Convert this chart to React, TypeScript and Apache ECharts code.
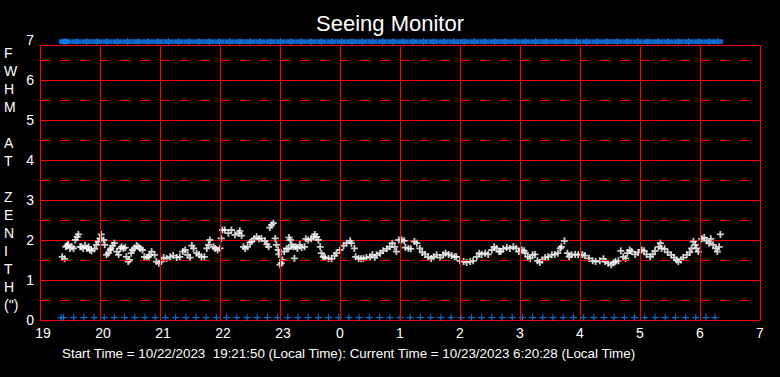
import React, { useEffect, useRef } from "react";
import * as echarts from "echarts";

// ---- data ----
const xTicks = [19, 20, 21, 22, 23, 24, 25, 26, 27, 28, 29, 30, 31]; // hours (24+ = next day)
const yMin = 0;
const yMax = 7;
const frameTop = 6.875; // top border of the plot frame
const halfLevels = [0.5, 1.5, 2.5, 3.5, 4.5, 5.5, 6.5];
const topMarkerLevel = 6.96;
const bottomMarkerLevel = 0.06;

const seeingTimes = [
  19.37, 19.41, 19.43, 19.45, 19.47, 19.5, 19.53, 19.56, 19.59, 19.62,
  19.64, 19.67, 19.69, 19.72, 19.75, 19.78, 19.81, 19.83, 19.86, 19.91,
  19.94, 19.97, 20.0, 20.02, 20.06, 20.08, 20.11, 20.14, 20.17, 20.18,
  20.21, 20.24, 20.28, 20.31, 20.34, 20.36, 20.39, 20.42, 20.44, 20.47,
  20.49, 20.52, 20.54, 20.57, 20.61, 20.64, 20.67, 20.71, 20.74, 20.78,
  20.81, 20.83, 20.86, 20.91, 20.94, 20.98, 21.02, 21.06, 21.11, 21.17,
  21.22, 21.28, 21.33, 21.38, 21.42, 21.46, 21.5, 21.53, 21.56, 21.61,
  21.65, 21.69, 21.74, 21.78, 21.81, 21.83, 21.89, 21.92, 21.96, 22.0,
  22.02, 22.04, 22.08, 22.14, 22.19, 22.25, 22.31, 22.33, 22.36, 22.39,
  22.42, 22.46, 22.5, 22.53, 22.57, 22.61, 22.65, 22.69, 22.75, 22.78,
  22.81, 22.83, 22.86, 22.89, 22.92, 22.94, 22.97,
  22.98, 23.0, 23.02, 23.04, 23.07, 23.11, 23.14, 23.15, 23.17, 23.19,
  23.22, 23.24, 23.26, 23.29, 23.33, 23.36, 23.41, 23.43, 23.47, 23.52,
  23.56, 23.58, 23.61, 23.64, 23.67, 23.69, 23.72, 23.75, 23.81, 23.86,
  23.91, 23.94, 24.0, 24.06, 24.11, 24.17, 24.19, 24.24, 24.26, 24.31,
  24.35, 24.39, 24.44, 24.5, 24.54, 24.58, 24.61, 24.67, 24.72, 24.78,
  24.83, 24.87, 24.91, 24.94, 24.98, 25.03, 25.07, 25.09, 25.14, 25.18,
  25.24, 25.28, 25.33, 25.37, 25.42, 25.47, 25.52, 25.56, 25.61, 25.67,
  25.72, 25.76, 25.81, 25.86, 25.91, 25.94, 26.0, 26.06, 26.11, 26.17,
  26.22, 26.28, 26.32, 26.36, 26.42, 26.47, 26.53, 26.57, 26.61, 26.65,
  26.68, 26.72, 26.78, 26.83, 26.89, 26.94, 26.98, 27.03, 27.07, 27.09,
  27.13, 27.17, 27.21, 27.25, 27.29, 27.33, 27.37, 27.42, 27.47, 27.53,
  27.58, 27.63, 27.67, 27.69, 27.74, 27.79, 27.82, 27.86, 27.92, 27.97,
  28.04, 28.08, 28.15, 28.21, 28.26, 28.33, 28.39, 28.42, 28.47, 28.52,
  28.56, 28.59, 28.64, 28.68, 28.72, 28.76, 28.79, 28.83, 28.86, 28.92,
  28.97, 29.03, 29.07, 29.11, 29.17, 29.21, 29.25, 29.31, 29.34, 29.36,
  29.41, 29.46, 29.52, 29.57, 29.61, 29.64, 29.68, 29.72, 29.78, 29.83,
  29.86, 29.89, 29.92, 29.94, 29.97, 30.03, 30.07, 30.11, 30.15, 30.18,
  30.22, 30.26, 30.29, 30.32, 30.34,
];

const seeingFwhm = [
  1.58, 1.53, 1.83, 1.86, 1.89, 1.79, 1.83, 1.79, 2.0, 2.08,
  2.14, 1.83, 1.83, 1.79, 1.86, 1.79, 1.83, 1.75, 1.73, 1.78,
  1.88, 1.96, 2.04, 2.14, 2.0, 1.88, 1.63, 1.67, 1.75, 1.79,
  1.86, 1.92, 1.71, 1.63, 1.79, 1.83, 1.79, 1.81, 1.58, 1.46,
  1.5, 1.67, 1.75, 1.79, 1.86, 1.83, 1.79, 1.75, 1.58, 1.56,
  1.58, 1.63, 1.71, 1.63, 1.46, 1.42, 1.46, 1.56, 1.54, 1.58,
  1.61, 1.56, 1.58, 1.71, 1.75, 1.63, 1.56, 1.86, 1.79, 1.67,
  1.63, 1.58, 1.58, 1.79, 1.88, 2.0, 1.83, 1.79, 1.75, 1.79,
  2.04, 2.25, 2.25, 2.17, 2.25, 2.13, 2.17, 2.23, 2.11, 1.83,
  1.79, 1.83, 1.94, 1.96, 2.04, 2.08, 2.03, 2.04, 1.98, 1.89,
  1.83, 2.31, 2.38, 2.42, 2.04, 1.88, 1.75,
  1.64, 1.38, 1.42, 1.5, 1.71, 1.79, 1.78, 2.06, 2.0, 1.88,
  1.83, 1.54, 1.83, 1.79, 1.88, 1.81, 1.83, 2.03, 2.0, 2.03,
  2.08, 2.14, 2.08, 2.0, 1.83, 1.67, 1.58, 1.56, 1.54, 1.53,
  1.61, 1.67, 1.75, 1.86, 1.92, 1.98, 1.92, 1.79, 1.58, 1.54,
  1.53, 1.54, 1.56, 1.58, 1.63, 1.56, 1.63, 1.67, 1.73, 1.78,
  1.83, 1.92, 1.83, 1.71, 2.0, 2.0, 1.98, 1.81, 1.79, 1.78,
  1.96, 1.92, 1.79, 1.69, 1.64, 1.58, 1.54, 1.58, 1.63, 1.56,
  1.63, 1.67, 1.64, 1.61, 1.58, 1.58, 1.48, 1.46, 1.44, 1.46,
  1.48, 1.58, 1.67, 1.64, 1.67, 1.64, 1.75, 1.83, 1.79, 1.71,
  1.71, 1.78, 1.81, 1.79, 1.83, 1.79, 1.71, 1.75, 1.73, 1.67,
  1.58, 1.54, 1.63, 1.64, 1.48, 1.44, 1.5, 1.56, 1.58, 1.63,
  1.64, 1.67, 1.79, 1.83, 1.98, 1.67, 1.58, 1.63, 1.64, 1.63,
  1.64, 1.61, 1.54, 1.48, 1.46, 1.48, 1.53, 1.46, 1.42, 1.38,
  1.43, 1.46, 1.48, 1.73, 1.58, 1.54, 1.67, 1.75, 1.71, 1.64,
  1.69, 1.75, 1.73, 1.64, 1.58, 1.64, 1.73, 1.83, 1.92, 1.79,
  1.78, 1.69, 1.63, 1.56, 1.5, 1.46, 1.5, 1.56, 1.63, 1.69,
  1.79, 1.96, 1.88, 1.79, 1.71, 2.03, 2.06, 1.98, 1.92, 2.03,
  1.88, 1.79, 1.71, 1.83, 2.14,
];

const blueTimes = [
  19.35, 19.39, 19.56, 19.73, 19.9, 20.07, 20.24, 20.41, 20.58, 20.75, 20.92,
  21.09, 21.26, 21.43, 21.6, 21.77, 21.94, 22.11, 22.28, 22.45, 22.62,
  22.79, 22.96, 23.13, 23.3, 23.47, 23.64, 23.81, 23.98, 24.15, 24.32,
  24.49, 24.66, 24.83, 25.0, 25.17, 25.34, 25.51, 25.68, 25.85, 26.02,
  26.19, 26.36, 26.53, 26.7, 26.87, 27.04, 27.21, 27.38, 27.55, 27.72,
  27.89, 28.06, 28.23, 28.4, 28.57, 28.74, 28.91, 29.08, 29.25, 29.42,
  29.59, 29.76, 29.93, 30.1, 30.25,
];

const titleText = "Seeing Monitor";
const yAxisLetters = ["F", "W", "H", "M", "", "A", "T", "", "Z", "E", "N", "I", "T", "H", '(")'];
const footerText =
  "Start Time = 10/22/2023  19:21:50 (Local Time): Current Time = 10/23/2023 6:20:28 (Local Time)";

const RED = "#ff0000";
const BLUE = "#1283ff";
const FONT = "Liberation Sans, Arial, sans-serif";

const crossPath = "path://M2.6,0H4.4V7H2.6ZM0,2.6H7V4.4H0Z";
const blueCross = "path://M2.9,0H4.1V7H2.9ZM0,2.9H7V4.1H0Z";
const bandPath = "path://M0.6,1.2H9.4V5.8H0.6ZM4.5,0H5.5V7H4.5Z";

export default function App() {
  const ref = useRef<HTMLDivElement>(null);

  useEffect(() => {
    if (!ref.current) return;
    const chart = echarts.init(ref.current, null, { renderer: "svg" });

    const seeingData = seeingTimes.map((t, i) => [t, seeingFwhm[i]]);
    const bottomData = blueTimes.map((t) => [t, bottomMarkerLevel]);
    const topData = blueTimes.map((t) => [t, topMarkerLevel]);

    const gridLines: any[] = [];
    xTicks.forEach((h) => {
      gridLines.push([{ coord: [h, yMin] }, { coord: [h, frameTop] }]);
    });
    gridLines.push([
      { coord: [xTicks[0], frameTop] },
      { coord: [xTicks[xTicks.length - 1], frameTop] },
    ]);
    halfLevels.forEach((v) => {
      gridLines.push({ yAxis: v, lineStyle: { type: [10, 10], color: RED, width: 1 } });
    });

    const option: any = {
      animation: false,
      backgroundColor: "#000000",
      title: {
        text: titleText,
        left: "center",
        top: 7,
        textStyle: { color: "#ffffff", fontSize: 22, fontWeight: "normal", fontFamily: FONT },
      },
      grid: { left: 40, right: 20, top: 40, bottom: 57 },
      xAxis: {
        type: "value",
        min: xTicks[0],
        max: xTicks[xTicks.length - 1],
        interval: 1,
        axisLine: { show: true, lineStyle: { color: RED, width: 1 } },
        axisTick: { show: false },
        splitLine: { show: false },
        axisLabel: {
          color: "#ffffff",
          fontSize: 14,
          fontFamily: FONT,
          margin: 6,
          formatter: (v: number) => {
            const h = Math.round(v) % 24;
            return h >= 10 ? `{w|${h}}` : `${h}`;
          },
          rich: {
            w: { color: "#ffffff", fontSize: 14, fontFamily: FONT, padding: [0, 0, 0, 6] },
          },
        },
      },
      yAxis: {
        type: "value",
        min: yMin,
        max: yMax,
        interval: 1,
        axisLine: { show: false },
        axisTick: { show: false },
        splitLine: {
          show: true,
          showMaxLine: false,
          lineStyle: { color: RED, width: 1, type: "solid" },
        },
        axisLabel: { color: "#ffffff", fontSize: 14, fontFamily: FONT, margin: 6 },
      },
      graphic: [
        {
          type: "text",
          left: 4,
          top: 44,
          style: {
            text: yAxisLetters.join("\n"),
            fill: "#ffffff",
            font: `14px ${FONT}`,
            lineHeight: 18,
            align: "center",
            width: 16,
          },
        },
        {
          type: "text",
          left: 62,
          top: 347,
          style: {
            text: footerText,
            fill: "#ffffff",
            font: `13.4px ${FONT}`,
          },
        },
      ],
      series: [
        {
          name: "frame",
          type: "scatter",
          data: [],
          silent: true,
          z: 1,
          markLine: {
            silent: true,
            symbol: ["none", "none"],
            label: { show: false },
            lineStyle: { color: RED, width: 1, type: "solid" },
            data: gridLines,
          },
        },
        {
          name: "bottom",
          type: "scatter",
          data: bottomData,
          symbol: blueCross,
          symbolSize: 7,
          itemStyle: { color: BLUE },
          silent: true,
          z: 2,
        },
        {
          name: "top",
          type: "scatter",
          data: topData,
          symbol: bandPath,
          symbolSize: [10, 7],
          symbolOffset: [3, 0],
          itemStyle: { color: BLUE },
          silent: true,
          z: 2,
        },
        {
          name: "seeing",
          type: "scatter",
          data: seeingData,
          symbol: crossPath,
          symbolSize: 7,
          itemStyle: { color: "#ffffff" },
          silent: true,
          z: 3,
        },
      ],
    };

    chart.setOption(option);
    return () => chart.dispose();
  }, []);

  return (
    <div
      ref={ref}
      style={{ position: "fixed", left: 0, top: 0, width: 780, height: 377 }}
    />
  );
}
